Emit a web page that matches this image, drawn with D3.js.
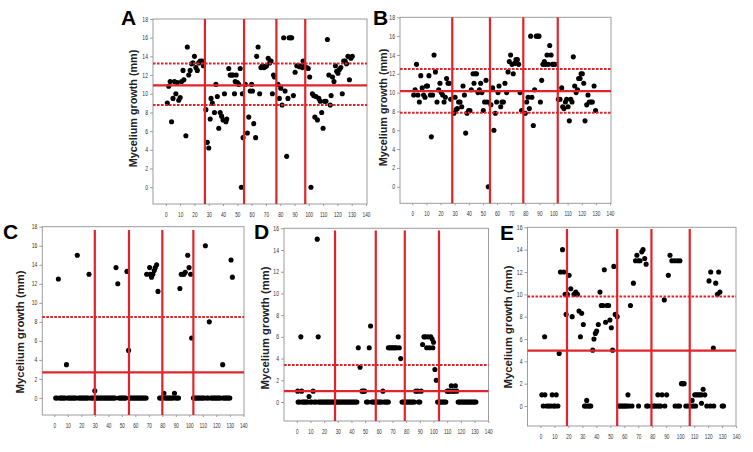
<!DOCTYPE html>
<html><head><meta charset="utf-8">
<script src="https://cdn.jsdelivr.net/npm/d3@7"></script>
<style>body{margin:0;background:#fff}svg{display:block}</style>
</head><body>
<svg id="c" width="753" height="452"></svg>
<script>
const xTickValues = [0,10,20,30,40,50,60,70,80,90,100,110,120,130,140];
const yTicks18 = [0,2,4,6,8,10,12,14,16,18];
const yTicks16 = [0,2,4,6,8,10,12,14,16];
const yTitle = "Mycelium growth (mm)";

const pointsA = [[1,9],[2,10.8],[3,11.3],[4,7],[5,9.5],[6,11.3],[7,10],[8,11.2],[9,9.3],[10,9.6],[11,11.3],[12,12.5],[12.6,11.5],[14,5.5],[15,15],[16,12],[17,12.5],[18,13.2],[19,13.3],[20,14],[21,12.8],[22,12.5],[23,13.3],[24,13.5],[25.3,13.5],[26.2,13],[28,8.3],[29,4.8],[30,4.2],[31,7.3],[31.6,9.5],[32.5,9],[34,8],[35,11],[36,9.7],[37,6.3],[38,8],[39,7.6],[40,7.2],[41,10],[42,7],[42.6,7.3],[44,12.7],[45,12],[46,12],[47,12],[48,10],[48.5,11.3],[49.2,12],[50,11.2],[51,11],[52,12.7],[52.8,0],[53.5,10],[54,5.3],[55.6,11],[57,5.8],[58,7.5],[59,10.3],[60,11],[60.6,10.3],[61.5,6.8],[62.8,5.3],[63.5,14],[64.5,15],[65.6,10],[66.5,12.8],[67.6,13],[68.6,12.8],[69.6,12.9],[70.5,13],[71.6,13.8],[72.6,13.3],[73.6,13.5],[74.5,10],[75.3,12],[76,11.8],[78.4,11],[79.4,9.5],[80.4,10.6],[81.3,8.8],[82.4,16],[83.4,10.3],[84.5,3.3],[85.4,9.5],[86.2,16],[87.2,16],[88,16],[89.2,9.8],[90.4,12.3],[91.6,13],[92.6,13],[93.7,12.9],[94.7,13],[95.6,12.8],[96,13.5],[96.6,13],[98.6,12.8],[99.6,12.7],[100.6,11.8],[101.5,0],[102.5,10],[103.4,9.8],[104.2,7.5],[105,9.7],[106,7.2],[107,9.5],[108,9.2],[109,8],[110,6.3],[111,9.2],[112,9.2],[113,15.8],[114,12],[115,8.8],[115.6,9.8],[116.6,11.8],[117.6,11.3],[118.6,13],[119.5,12.4],[120.4,12.2],[121.4,12.6],[122.4,12.8],[123.4,10],[124.4,13.5],[125.4,13.5],[126.4,13.2],[127.4,14],[128.4,11.5],[129.4,13.8],[130.4,14]];

const pointsB = [[1,9.75],[2,10.3],[3,13],[4,9.75],[5,9],[6,11.8],[7,10.5],[8,9.75],[9,9.5],[10,10.7],[10.8,10.7],[11.8,11.8],[12.8,9.75],[13.5,5.3],[14.4,9.75],[15.4,14],[16.4,12.2],[17.5,9],[18.7,10.3],[19.6,11],[20.5,10],[21.5,9.75],[22.5,9],[23.4,9.5],[24.3,11.5],[25.3,11],[26.2,11],[27.2,9.3],[29.5,7.8],[30.3,9.5],[31,8.2],[31.9,8.3],[32.8,9],[33.8,9],[35,8.5],[35.9,10.7],[36.9,9.75],[37.8,5.7],[38.7,7.8],[39.9,8.1],[40.8,8.1],[41.8,10.3],[43,12],[43.7,11],[44.6,12],[45.5,12],[46.5,10],[47.5,10.3],[48.4,11],[49.3,10],[50.3,8.1],[51.2,9],[52.2,11.3],[53.1,9],[53.8,0],[55.7,8.7],[56.9,10.5],[57.8,6],[58.8,7.8],[59.7,9],[60.7,10],[61.4,10.7],[62.6,8.5],[63.5,9],[64.5,9],[65.6,11],[66.8,10],[67.8,12.2],[68.7,13.3],[69.6,14],[70.6,13],[71.5,12],[72.5,13.1],[73.4,13.5],[74.4,13.5],[75.3,13],[76.3,10],[77.4,8.1],[80,7.8],[81,9],[82,9.5],[82.9,8.3],[83.8,16],[84.7,9.5],[85.7,6.5],[86.6,10.3],[87.8,16],[88.8,16],[89.7,16],[90.7,9],[91.6,11.3],[92.5,13],[93.5,13.3],[94.4,13],[95.4,14],[96.3,13],[97.3,15],[98.3,14],[99.2,13],[100.1,13],[101,13],[103.4,9.3],[104.6,9.3],[105.8,10.5],[106.5,8.5],[107.4,8.3],[108.4,9],[109.3,9.3],[110.3,8.5],[111.2,7],[112.2,9.3],[113.1,9],[114,13.8],[115,10.7],[116,10],[117,10.3],[117.8,11.5],[118.8,11.5],[119.5,12],[120.4,12],[121.4,11],[122.3,7],[123.5,8.7],[124.4,9.75],[125.3,9],[126.5,9],[127.5,9],[128.7,10.7],[129.8,8.1]];

const pointsC = [[3,12.5],[9,3.5],[17,15],[25.7,13],[30,0.75],[45.7,13.7],[47,12],[53.8,13.3],[55,5],[68.4,13],[70.6,13.7],[71,13],[72,12.7],[73,13],[74,13.4],[74.8,13.7],[75.8,14],[76.8,11.2],[81.2,0.5],[89,0.5],[93,11.5],[94,13],[95,13],[96,13],[97,13.2],[98.8,15],[99.8,13.7],[101,13],[101.7,6.3],[111.9,16],[114.8,8],[124.7,3.5],[130.9,14.5],[131.9,12.7]];
const zerosC = [1,2,4,5,6,7,8,10,11,12,13,14,15,16,18,19,20,21,22,23,24,25,27,28,29,31,32,33,34,35,36,37,38,39,40,41,42,43,44,45,48,49,50,51,52,53,56,57,58,59,60,61,62,63,64,65,66,67,68,78,79,80,82,83,84,85,86,87,88,90,91,92,103,104,105,106,107,108,109,110,111,113,114,116,117,118,119,120,121,122,123,125,126,127,128,129,130];

const pointsD = [[0.7,1],[3.6,1],[3,6],[9,0.5],[12,1],[15,15],[15.7,6],[45,5],[46.3,3.2],[47.7,1],[48.7,1],[49.7,1],[53,5],[54,7],[63,1],[67,5],[68,5],[69,5],[70,5],[71,5],[72,5],[73,5],[74.2,6],[75,5],[76,4],[87,1],[88.6,1],[91,1],[92,5.3],[93,6],[94,6],[95,5],[96,6],[97,5],[98,6],[99,5.8],[99.5,5],[100,5.5],[101,3],[102,2],[110,1],[111,1],[112,1],[113,1.5],[114,1],[115,1],[116,1.5],[117,1]];
const zerosD = [1,2,4,5,6,7,8,10,11,13,14,16,17,18,19,20,21,22,23,24,25,26,27,28,29,30,31,32,33,34,35,36,37,38,39,40,41,42,43,44,51,52,55,56,57,58,59,60,61,62,64,65,66,67,77,78,79,80,81,82,83,84,85,86,89,90,103,104,105,106,107,108,109,118,119,120,121,122,123,124,125,126,127,128,129,130,131];

const pointsE = [[1,1],[3.2,1],[3,6.2],[8.4,1],[11.3,1],[13.4,4.7],[14.3,12],[15.8,14],[16.7,12],[17.7,10],[18.4,8.2],[19.3,10],[20.5,11.7],[21.7,10.5],[22.7,8],[24,10],[25.3,10.2],[26.5,10],[27.6,8.5],[28.6,6.2],[29.5,8.3],[30.7,7.3],[33.1,0.5],[37.4,5],[38.3,6],[39.3,6.5],[40.2,6.7],[41.4,7.3],[42.6,10.2],[43.5,9],[44.7,9],[45.7,12.2],[46.6,7.5],[47.6,9],[48.8,9],[49.7,7.7],[50.7,7],[51.6,5],[52.5,12.5],[53.5,8.2],[54.9,8],[62.6,1],[64.4,9],[66.5,11],[68,13],[69,13.5],[70,13],[71.3,13],[72.5,13.8],[73.4,14],[74.6,13.2],[75.6,12.7],[84,1],[87,1],[88.6,9.5],[90.3,1],[91.5,11.7],[92.7,13.5],[94,13],[96,13],[98,13],[99.8,13],[100.9,2],[101.9,2],[102.8,2],[108.5,0.5],[110.4,1],[111.6,1],[112.8,1],[114,1],[115.2,0.25],[115.2,1],[116.4,1.5],[117.6,1],[120.6,11.2],[121.8,12],[123.7,5.2],[125.4,11],[126.6,10],[127.5,12],[128.4,10.2]];
const zerosE = [2,4.5,6,7.5,9.5,10.5,12.5,31.5,32.5,34,35,36,56,57,58,59,60,61,62,63.5,65.5,70.2,76,77,79.5,81,82,83.5,85,86,89,96.3,98.2,99.5,104,105.5,108,109.5,111,119,121.5,124,130,131];

const cutsA=[27.3,54.7,77.3,97.5], meanA=10.9, bandA=[13.25,8.8];
const cutsB=[28.3,55,78.6,103], meanB=10.15, bandB=[12.5,7.85];
const cutsC=[30,55.3,80,103], meanC=2.7, bandC=[8.5];
const cutsD=[28,57.8,79,104], meanD=1.0, bandD=[3.4];
const cutsE=[19,54.9,79.4,106.8], meanE=4.95, bandE=[9.8];

const panels = [
 {id:"A", pts:pointsA, zeros:[], cuts:cutsA, mean:meanA, band:bandA, yTicks:yTicks18,
  box:[153,19,367,204], xd:[-9,140.7], yd:[-1.8,18], cutTop:18, letter:[121,25], title:[133,108.5], ts:10.8},
 {id:"B", pts:pointsB, zeros:[], cuts:cutsB, mean:meanB, band:bandB, yTicks:yTicks18,
  box:[400,17.3,611,203.3], xd:[-8.7,140.7], yd:[-1.76,18], cutTop:18, letter:[373,25], title:[383,107.5], ts:10.8},
 {id:"C", pts:pointsC, zeros:zerosC, cuts:cutsC, mean:meanC, band:bandC, yTicks:yTicks18,
  box:[42.3,226.7,244,415], xd:[-8.9,140.5], yd:[-1.79,18], cutTop:17.65, letter:[3,239], title:[20,332], ts:11.3},
 {id:"D", pts:pointsD, zeros:zerosD, cuts:cutsD, mean:meanD, band:bandD, yTicks:yTicks16,
  box:[284,228.3,488.5,421], xd:[-9.3,140.2], yd:[-1.75,16], cutTop:15.8, letter:[254,239], title:[265,328], ts:11.3},
 {id:"E", pts:pointsE, zeros:zerosE, cuts:cutsE, mean:meanE, band:bandE, yTicks:yTicks16,
  box:[527.5,227.3,736,426], xd:[-9.25,139.9], yd:[-1.79,16], cutTop:15.85, letter:[500,240], title:[508,327], ts:11.3}
];

const svg = d3.select("#c");
const RED = "#e1242a", FRAME = "#9c9c9c";
const FONT = "'Liberation Sans', Arial, sans-serif";

panels.forEach(p => {
  const [x0,y0,x1,y1] = p.box;
  const x = d3.scaleLinear().domain(p.xd).range([x0,x1]);
  const y = d3.scaleLinear().domain(p.yd).range([y1,y0]);
  const g = svg.append("g");

  // frame
  g.append("rect").attr("x",x0).attr("y",y0).attr("width",x1-x0).attr("height",y1-y0)
    .attr("fill","none").attr("stroke",FRAME).attr("stroke-width",1);

  // y axis ticks + labels
  const ya = g.append("g").attr("transform",`translate(${x0},0)`)
    .call(d3.axisLeft(y).tickValues(p.yTicks).tickSize(3).tickPadding(2).tickFormat(d3.format("d")));
  ya.select(".domain").remove();
  ya.selectAll(".tick line").attr("stroke",FRAME);
  ya.selectAll(".tick text").attr("font-family",FONT).attr("font-size",6.5).attr("fill","#333")
    .attr("transform",function(){ return null; })
    .each(function(){
      const t = d3.select(this);
      const xx = +t.attr("x");
      t.attr("x", null).attr("transform", `translate(${xx},0) scale(0.78,1)`);
    });

  // x axis ticks + labels
  const xa = g.append("g").attr("transform",`translate(0,${y1})`)
    .call(d3.axisBottom(x).tickValues(xTickValues).tickSize(2).tickPadding(6).tickFormat(d3.format("d")));
  xa.select(".domain").remove();
  xa.selectAll(".tick line").attr("stroke",FRAME);
  xa.selectAll(".tick text").attr("font-family",FONT).attr("font-size",6.5).attr("fill","#333")
    .each(function(){
      const t = d3.select(this);
      const yy = +t.attr("y");
      t.attr("y", null).attr("transform", `translate(0,${yy}) scale(0.72,1)`);
    });

  // points
  const all = p.pts.concat(p.zeros.map(v => [v,0]));
  g.append("g").selectAll("circle").data(all).join("circle")
    .attr("cx", d => x(d[0])).attr("cy", d => y(d[1])).attr("r", 2.55).attr("fill","#000");

  // red reference lines
  p.cuts.forEach(c => {
    g.append("line").attr("x1",x(c)).attr("x2",x(c)).attr("y1",y(p.cutTop)).attr("y2",y1)
      .attr("stroke",RED).attr("stroke-width",2.2);
  });
  g.append("line").attr("x1",x0).attr("x2",x1).attr("y1",y(p.mean)).attr("y2",y(p.mean))
    .attr("stroke",RED).attr("stroke-width",2.2);
  p.band.forEach(b => {
    g.append("line").attr("x1",x0).attr("x2",x1).attr("y1",y(b)).attr("y2",y(b))
      .attr("stroke",RED).attr("stroke-width",2).attr("stroke-dasharray","2.6,1.4");
  });

  // panel letter
  svg.append("text").attr("x",p.letter[0]).attr("y",p.letter[1]).text(p.id)
    .attr("font-family",FONT).attr("font-weight","bold").attr("font-size",21).attr("fill","#000");

  // y title
  svg.append("text").attr("transform",`translate(${p.title[0]},${p.title[1]}) rotate(-90)`)
    .attr("text-anchor","middle").attr("dominant-baseline","central")
    .attr("font-family",FONT).attr("font-weight","bold").attr("font-size",p.ts).attr("fill","#222")
    .text(yTitle);
});
</script>
</body></html>
